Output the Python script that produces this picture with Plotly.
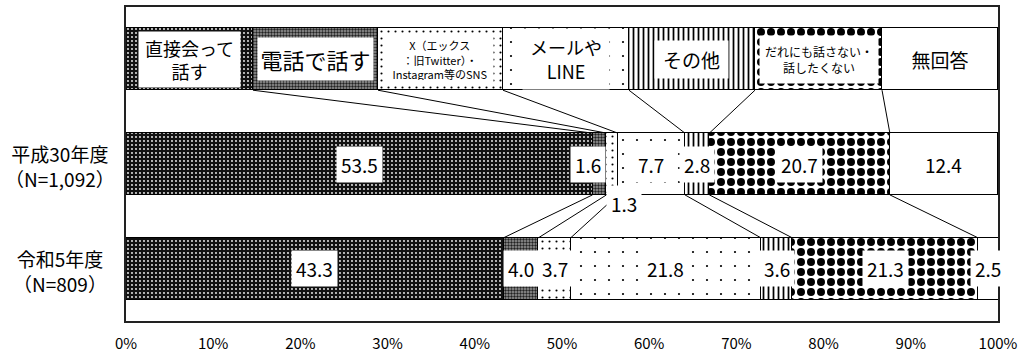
import numpy as np
import plotly.graph_objects as go

# ---------------- data ----------------
categories = ["直接会って話す", "電話で話す", "X（エックス：旧Twitter）・Instagram等のSNS",
              "メールやLINE", "その他", "だれにも話さない・話したくない", "無回答"]
legend_texts = ["直接会って<br>話す", "電話で話す", "X（エックス<br>：旧Twitter）・<br>Instagram等のSNS",
                "メールや<br>LINE", "その他", "だれにも話さない・<br>話したくない", "無回答"]
row_labels = ["令和5年度<br>（N=809）", "平成30年度<br>（N=1,092）"]
values_h30 = [53.5, 1.6, 1.3, 7.7, 2.8, 20.7, 12.4]
values_r5 = [43.3, 4.0, 3.7, 21.8, 3.6, 21.3, 2.5]
legend_row_widths = [14.56, 14.34, 14.33, 14.45, 14.45, 14.57, 13.30]
x_ticks = [0, 10, 20, 30, 40, 50, 60, 70, 80, 90, 100]
x_ticktext = [f"{t}%" for t in x_ticks]

# ---------------- styles ----------------
FONT = "Noto Sans CJK JP"
BAR_W = 0.59
Y_R5, Y_H30, Y_LEG = 0, 1, 2
patterns = [
    dict(shape=".", bgcolor="#111111", fgcolor="#ffffff", size=4, solidity=0.16),
    dict(shape=".", bgcolor="#9a9a9a", fgcolor="#222222", size=3, solidity=0.5),
    dict(shape=".", bgcolor="#ffffff", fgcolor="#000000", size=7, solidity=0.07),
    dict(shape=".", bgcolor="#ffffff", fgcolor="#000000", size=14, solidity=0.02),
    dict(shape="|", bgcolor="#ffffff", fgcolor="#000000", size=5, solidity=0.35),
    dict(shape=".", bgcolor="#ffffff", fgcolor="#000000", size=10, solidity=0.5),
    dict(shape="", bgcolor="#ffffff", fgcolor="#000000", size=8, solidity=0.2),
]

fig = go.Figure()
for i, cat in enumerate(categories):
    p = patterns[i]
    fig.add_trace(go.Bar(
        y=[Y_R5, Y_H30, Y_LEG],
        x=[values_r5[i], values_h30[i], legend_row_widths[i]],
        orientation="h", width=BAR_W, name=cat,
        marker=dict(color=p["bgcolor"], line=dict(color="black", width=1),
                    pattern=dict(shape=p["shape"], bgcolor=p["bgcolor"], fgcolor=p["fgcolor"],
                                 size=p["size"], solidity=p["solidity"], fillmode="replace")),
        showlegend=False, hoverinfo="skip",
    ))

# series (connector) lines
leg_cum = np.cumsum(legend_row_widths)
h30_cum = np.cumsum(values_h30)
r5_cum = np.cumsum(values_r5)
lx, ly = [], []
for i in range(len(categories) - 1):
    lx += [leg_cum[i], h30_cum[i], None, h30_cum[i], r5_cum[i], None]
    ly += [Y_LEG - BAR_W / 2, Y_H30 + BAR_W / 2, None, Y_H30 - BAR_W / 2, Y_R5 + BAR_W / 2, None]
fig.add_trace(go.Scatter(x=lx, y=ly, mode="lines", line=dict(color="black", width=1),
                         showlegend=False, hoverinfo="skip", cliponaxis=False))

annotations = []

# legend-row labels (white boxes)
leg_start = leg_cum - np.array(legend_row_widths)
leg_fonts = [18, 22, 11, 18, 19, 12, 19]
leg_boxes = [(97, 51), (111, 38), (102, 41), (82, 56), (69, 33), (114, 43), (80, 40)]
for i, txt in enumerate(legend_texts):
    w, h = leg_boxes[i]
    annotations.append(dict(
        x=(leg_start[i] + leg_cum[i]) / 2, y=Y_LEG, xref="x", yref="y", text=txt,
        showarrow=False, font=dict(family=FONT, size=leg_fonts[i], color="black"),
        bgcolor="white", borderpad=2, width=w, height=h, align="center", valign="middle"))

# value labels
def value_label(x, y, v, xanchor="center", yshift=0):
    annotations.append(dict(
        x=x, y=y, xref="x", yref="y", text=f"{v:.1f}", showarrow=False, xanchor=xanchor,
        yshift=yshift, font=dict(family=FONT, size=19, color="black"),
        bgcolor="white", borderpad=4))

h30_start = h30_cum - np.array(values_h30)
r5_start = r5_cum - np.array(values_r5)
for i, v in enumerate(values_h30):
    if i == 1:
        value_label(h30_cum[i], Y_H30, v, xanchor="right")
    elif i == 2:
        value_label(h30_start[i], Y_H30 - 0.38, v, xanchor="left")
    else:
        value_label((h30_start[i] + h30_cum[i]) / 2, Y_H30, v)
for i, v in enumerate(values_r5):
    value_label((r5_start[i] + min(r5_cum[i], 100)) / 2, Y_R5, v)

# row labels
for yy, txt in zip([Y_R5, Y_H30], row_labels):
    annotations.append(dict(
        x=-0.076, y=yy, xref="paper", yref="y", text=txt, showarrow=False,
        xanchor="center", yanchor="middle", align="center", yshift=-2,
        font=dict(family=FONT, size=19, color="black")))

fig.update_layout(
    barmode="stack", width=1033, height=356,
    margin=dict(l=126, r=35, t=7, b=35, autoexpand=False),
    paper_bgcolor="white", plot_bgcolor="white",
    annotations=annotations, bargap=0,
    font=dict(family=FONT, color="black"),
)
fig.update_xaxes(range=[0, 100], tickvals=x_ticks, ticktext=x_ticktext, showgrid=False,
                 zeroline=False, showline=True, mirror=True, linecolor="#222222", linewidth=1.5,
                 ticks="", ticklabelstandoff=8, automargin=False,
                 tickfont=dict(family=FONT, size=15, color="black"))
fig.update_yaxes(range=[-0.5, 2.5], showticklabels=False, showgrid=False, zeroline=False,
                 showline=True, mirror=True, linecolor="#222222", linewidth=1.5, ticks="",
                 automargin=False)

fig.write_html("out.html", config={"displayModeBar": False},
               post_script="document.body.style.margin='0';document.body.style.overflow='hidden';")
